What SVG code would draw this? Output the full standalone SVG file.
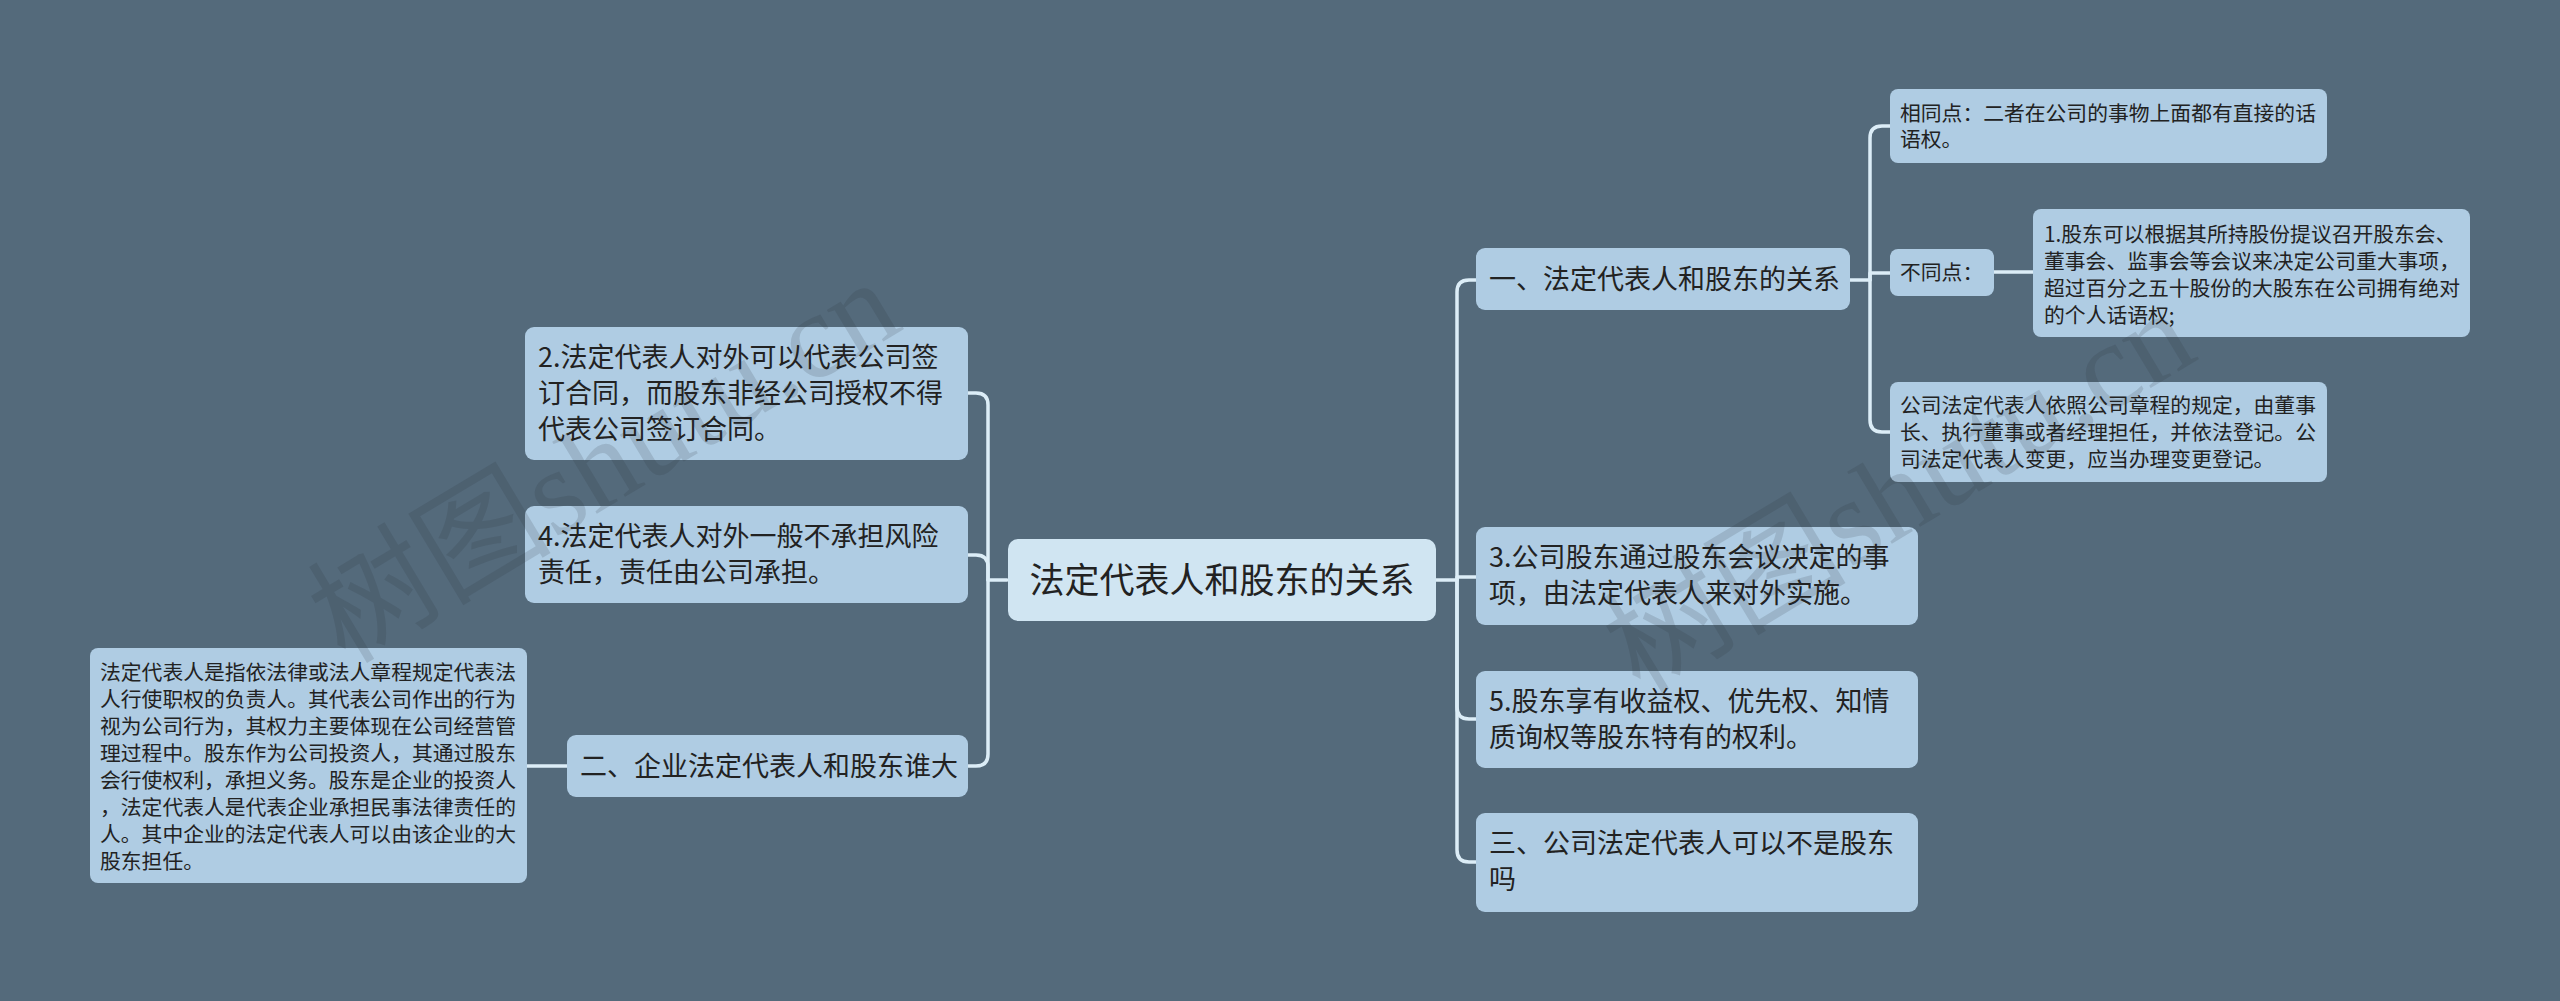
<svg xmlns="http://www.w3.org/2000/svg" width="2560" height="1001" viewBox="0 0 2560 1001">
<defs>
<style>
.bg{fill:#546a7b}
.n{fill:#afcce3}
.m{fill:#d0e5f2}
.t{font-family:"Noto Sans CJK SC","Noto Sans",sans-serif;fill:#222}
.t27{font-size:27px}
.t21{font-size:20.8px}
.t35{font-size:35px}
.c{fill:none;stroke:#dcedf7;stroke-width:3.5;stroke-linecap:round;stroke-linejoin:round}
.wm{font-family:"Liberation Serif","Noto Sans CJK SC",serif;font-size:122px;fill:#2a2f35;fill-opacity:0.15}
</style>
</defs>
<rect class="bg" x="0" y="0" width="2560" height="1001"/>

<g id="connectors">
<path class="c" d="M1007 580 H988 V405 Q988 393 976 393 H968"/>
<path class="c" d="M988 580 V567 Q988 555 976 555 H968"/>
<path class="c" d="M988 580 V754 Q988 766 976 766 H968"/>
<path class="c" d="M567 766 H527"/>
<path class="c" d="M1436 580 H1457 V292 Q1457 280 1469 280 H1476"/>
<path class="c" d="M1457 580 V577 H1476"/>
<path class="c" d="M1457 580 V707 Q1457 719 1469 719 H1476"/>
<path class="c" d="M1457 580 V850 Q1457 862 1469 862 H1476"/>
<path class="c" d="M1850 280 H1870 V138 Q1870 126 1882 126 H1890"/>
<path class="c" d="M1870 280 V273 H1890"/>
<path class="c" d="M1870 280 V420 Q1870 432 1882 432 H1890"/>
<path class="c" d="M1994 272 H2033"/>
</g>

<g id="root">
<rect class="m" x="1008" y="539" width="428" height="82" rx="10"/>
<text class="t t35" x="1222" y="593" text-anchor="middle">法定代表人和股东的关系</text>
</g>

<g id="n2">
<rect class="n" x="525" y="327" width="443" height="133" rx="9"/>
<text class="t t27" x="538" y="367">2.法定代表人对外可以代表公司签</text>
<text class="t t27" x="538" y="403">订合同，而股东非经公司授权不得</text>
<text class="t t27" x="538" y="439">代表公司签订合同。</text>
</g>

<g id="n4">
<rect class="n" x="525" y="506" width="443" height="97" rx="9"/>
<text class="t t27" x="538" y="546">4.法定代表人对外一般不承担风险</text>
<text class="t t27" x="538" y="582">责任，责任由公司承担。</text>
</g>

<g id="n-er">
<rect class="n" x="567" y="735" width="401" height="62" rx="9"/>
<text class="t t27" x="580" y="776">二、企业法定代表人和股东谁大</text>
</g>

<g id="n-er-leaf">
<rect class="n" x="90" y="648" width="437" height="235" rx="8"/>
<text class="t t21" x="100" y="680">法定代表人是指依法律或法人章程规定代表法</text>
<text class="t t21" x="100" y="707">人行使职权的负责人。其代表公司作出的行为</text>
<text class="t t21" x="100" y="734">视为公司行为，其权力主要体现在公司经营管</text>
<text class="t t21" x="100" y="761">理过程中。股东作为公司投资人，其通过股东</text>
<text class="t t21" x="100" y="788">会行使权利，承担义务。股东是企业的投资人</text>
<text class="t t21" x="100" y="815">，法定代表人是代表企业承担民事法律责任的</text>
<text class="t t21" x="100" y="842">人。其中企业的法定代表人可以由该企业的大</text>
<text class="t t21" x="100" y="869">股东担任。</text>
</g>

<g id="n-yi">
<rect class="n" x="1476" y="248" width="374" height="62" rx="9"/>
<text class="t t27" x="1489" y="289">一、法定代表人和股东的关系</text>
</g>

<g id="n-same">
<rect class="n" x="1890" y="89" width="437" height="74" rx="8"/>
<text class="t t21" x="1900" y="121">相同点：二者在公司的事物上面都有直接的话</text>
<text class="t t21" x="1900" y="147">语权。</text>
</g>

<g id="n-diff">
<rect class="n" x="1890" y="249" width="104" height="47" rx="8"/>
<text class="t t21" x="1900" y="280">不同点：</text>
</g>

<g id="n-diff-1">
<rect class="n" x="2033" y="209" width="437" height="128" rx="8"/>
<text class="t t21" x="2044" y="242">1.股东可以根据其所持股份提议召开股东会、</text>
<text class="t t21" x="2044" y="269">董事会、监事会等会议来决定公司重大事项，</text>
<text class="t t21" x="2044" y="296">超过百分之五十股份的大股东在公司拥有绝对</text>
<text class="t t21" x="2044" y="323">的个人话语权;</text>
</g>

<g id="n-legal">
<rect class="n" x="1890" y="382" width="437" height="100" rx="8"/>
<text class="t t21" x="1900" y="413">公司法定代表人依照公司章程的规定，由董事</text>
<text class="t t21" x="1900" y="440">长、执行董事或者经理担任，并依法登记。公</text>
<text class="t t21" x="1900" y="467">司法定代表人变更，应当办理变更登记。</text>
</g>

<g id="n3">
<rect class="n" x="1476" y="527" width="442" height="98" rx="9"/>
<text class="t t27" x="1489" y="567">3.公司股东通过股东会议决定的事</text>
<text class="t t27" x="1489" y="603">项，由法定代表人来对外实施。</text>
</g>

<g id="n5">
<rect class="n" x="1476" y="671" width="442" height="97" rx="9"/>
<text class="t t27" x="1489" y="711">5.股东享有收益权、优先权、知情</text>
<text class="t t27" x="1489" y="747">质询权等股东特有的权利。</text>
</g>

<g id="n-san">
<rect class="n" x="1476" y="813" width="442" height="99" rx="9"/>
<text class="t t27" x="1489" y="853">三、公司法定代表人可以不是股东</text>
<text class="t t27" x="1489" y="889">吗</text>
</g>

<g id="watermarks">
<text class="wm" transform="translate(345 665) rotate(-31)">树图shutu.cn</text>
<text class="wm" transform="translate(1640 695) rotate(-31)">树图shutu.cn</text>
</g>
</svg>
